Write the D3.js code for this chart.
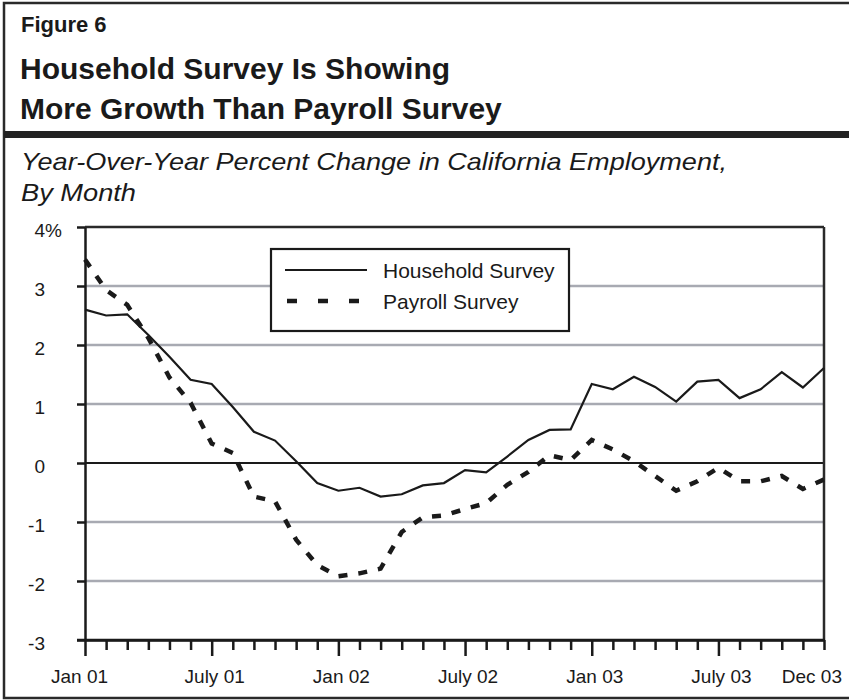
<!DOCTYPE html>
<html>
<head>
<meta charset="utf-8">
<script src="https://cdn.jsdelivr.net/npm/d3@7"></script>
<style>
  html, body { margin: 0; padding: 0; background: #fff; }
  svg { display: block; }
  text { font-family: "Liberation Sans", Arial, Helvetica, sans-serif; fill: #1a1a1a; }
</style>
</head>
<body>
<svg id="chart" width="849" height="700"></svg>
<script>
// ---- data ----
const months = [
  "Jan 01","Feb 01","Mar 01","Apr 01","May 01","Jun 01","Jul 01","Aug 01","Sep 01","Oct 01","Nov 01","Dec 01",
  "Jan 02","Feb 02","Mar 02","Apr 02","May 02","Jun 02","Jul 02","Aug 02","Sep 02","Oct 02","Nov 02","Dec 02",
  "Jan 03","Feb 03","Mar 03","Apr 03","May 03","Jun 03","Jul 03","Aug 03","Sep 03","Oct 03","Nov 03","Dec 03"
];
const household = [
  2.60, 2.50, 2.52, 2.17, 1.80, 1.41, 1.34, 0.95, 0.53, 0.38, 0.03, -0.34,
  -0.47, -0.42, -0.57, -0.53, -0.38, -0.34, -0.12, -0.16, 0.11, 0.39, 0.56, 0.57,
  1.34, 1.25, 1.46, 1.29, 1.04, 1.38, 1.41, 1.10, 1.25, 1.54, 1.28, 1.61
];
const payroll = [
  3.45, 2.93, 2.68, 2.12, 1.45, 1.02, 0.33, 0.17, -0.57, -0.65, -1.30, -1.73,
  -1.92, -1.87, -1.79, -1.17, -0.92, -0.89, -0.78, -0.68, -0.37, -0.15, 0.13, 0.05,
  0.39, 0.23, 0.03, -0.22, -0.47, -0.31, -0.08, -0.31, -0.31, -0.22, -0.44, -0.28
];
const yTicks = [-3, -2, -1, 0, 1, 2, 3, 4];
const xLabelIndex = [0, 6, 12, 18, 24, 30, 35];
const xLabels = ["Jan 01", "July 01", "Jan 02", "July 02", "Jan 03", "July 03", "Dec 03"];
const seriesNames = ["Household Survey", "Payroll Survey"];
const figureLabel = "Figure 6";
const titleLines = ["Household Survey Is Showing", "More Growth Than Payroll Survey"];
const subtitleLines = ["Year-Over-Year Percent Change in California Employment,", "By Month"];

// ---- layout ----
const svg = d3.select("#chart");
const W = 849, H = 700;
const plot = { left: 85, right: 824, top: 227, bottom: 640 };
const ink = "#1a1a1a";

// outer frame
svg.append("path")
  .attr("d", `M${W},3 L4,3 L4,698 L${W},698`)
  .attr("fill", "none").attr("stroke", "#2a2a2a").attr("stroke-width", 2.5);
// separator bar
svg.append("rect").attr("x", 4).attr("y", 131).attr("width", W - 4).attr("height", 7).attr("fill", "#222");

// header text
svg.append("text").attr("x", 21).attr("y", 32).attr("font-size", 22).attr("font-weight", "bold")
  .text(figureLabel);
svg.selectAll("text.title").data(titleLines).enter().append("text")
  .attr("class", "title")
  .attr("x", 20).attr("y", (d, i) => 79 + i * 40)
  .attr("font-size", 30).attr("font-weight", "bold")
  .text(d => d);
const subWidths = [706, 115];
svg.selectAll("text.subtitle").data(subtitleLines).enter().append("text")
  .attr("class", "subtitle")
  .attr("x", 21).attr("y", (d, i) => 170 + i * 31)
  .attr("font-size", 24).attr("font-style", "italic")
  .attr("textLength", (d, i) => subWidths[i]).attr("lengthAdjust", "spacingAndGlyphs")
  .text(d => d);

// scales
const x = d3.scaleLinear().domain([0, months.length - 1]).range([plot.left, plot.right]);
const y = d3.scaleLinear().domain([-3, 4]).range([plot.bottom, plot.top]);

// gridlines
svg.append("g").selectAll("line").data(yTicks.filter(v => v !== 0 && v !== 4 && v !== -3)).enter()
  .append("line")
  .attr("x1", plot.left).attr("x2", plot.right)
  .attr("y1", d => y(d)).attr("y2", d => y(d))
  .attr("stroke", "#a8aab2").attr("stroke-width", 2.5);

// zero line
svg.append("line").attr("x1", plot.left).attr("x2", plot.right)
  .attr("y1", y(0)).attr("y2", y(0)).attr("stroke", ink).attr("stroke-width", 2);

// top and right frame
svg.append("line").attr("x1", plot.left).attr("x2", plot.right)
  .attr("y1", y(4)).attr("y2", y(4)).attr("stroke", "#2a2a2a").attr("stroke-width", 2.5);
svg.append("line").attr("x1", plot.right).attr("x2", plot.right)
  .attr("y1", plot.top).attr("y2", plot.bottom).attr("stroke", "#2a2a2a").attr("stroke-width", 2.5);

// y axis
const yAxis = svg.append("g").attr("transform", `translate(${plot.left},0)`)
  .call(d3.axisLeft(y).tickValues(yTicks).tickSize(8).tickSizeOuter(0).tickFormat(""));
yAxis.select(".domain").attr("stroke", ink).attr("stroke-width", 2.5);
yAxis.selectAll(".tick line").attr("stroke", ink).attr("stroke-width", 2.5);

// y labels
yTicks.forEach(v => {
  svg.append("text").attr("x", 45).attr("y", y(v) + 9.5)
    .attr("font-size", 19).attr("text-anchor", "end").text(String(v));
  if (v === 4) {
    svg.append("text").attr("x", 45).attr("y", y(v) + 9.5).attr("font-size", 19).text("%");
  }
});

// x axis
const xAxis = svg.append("g").attr("transform", `translate(0,${plot.bottom})`)
  .call(d3.axisBottom(x).tickValues(d3.range(months.length)).tickSize(10).tickSizeOuter(0).tickFormat(""));
xAxis.select(".domain").attr("stroke", ink).attr("stroke-width", 2.5);
xAxis.selectAll(".tick line").attr("stroke", ink).attr("stroke-width", 2.5)
  .attr("y2", d => (d % 6 === 0 ? 16 : 10));
svg.append("line").attr("x1", plot.left - 8).attr("x2", plot.right + 1)
  .attr("y1", plot.bottom).attr("y2", plot.bottom).attr("stroke", ink).attr("stroke-width", 2.5);

// x labels
xLabelIndex.forEach((idx, k) => {
  let cx = x(idx) + 3, anchor = "middle";
  if (k === 0) cx = x(idx) - 5.5;
  if (k === xLabelIndex.length - 1) { cx = x(idx) + 18; anchor = "end"; }
  svg.append("text").attr("x", cx).attr("y", 683).attr("font-size", 19)
    .attr("text-anchor", anchor).text(xLabels[k]);
});

// lines
const line = d3.line().x((d, i) => x(i)).y(d => y(d));
svg.append("path").datum(household).attr("d", line)
  .attr("fill", "none").attr("stroke", ink).attr("stroke-width", 2.2).attr("stroke-linejoin", "miter");
svg.append("path").datum(payroll).attr("d", line)
  .attr("fill", "none").attr("stroke", ink).attr("stroke-width", 4.5)
  .attr("stroke-dasharray", "9,11").attr("stroke-linecap", "butt");

// legend
const lg = svg.append("g");
lg.append("rect").attr("x", 271).attr("y", 249).attr("width", 298).attr("height", 82)
  .attr("fill", "#fff").attr("stroke", ink).attr("stroke-width", 2.2);
lg.append("line").attr("x1", 285).attr("x2", 367).attr("y1", 270).attr("y2", 270)
  .attr("stroke", ink).attr("stroke-width", 2.2);
lg.append("line").attr("x1", 287).attr("x2", 359).attr("y1", 301).attr("y2", 301)
  .attr("stroke", ink).attr("stroke-width", 4.5).attr("stroke-dasharray", "10,21");
lg.selectAll("text").data(seriesNames).enter().append("text")
  .attr("x", 383).attr("y", (d, i) => 278 + i * 31)
  .attr("font-size", 21).text(d => d);
</script>
</body>
</html>
